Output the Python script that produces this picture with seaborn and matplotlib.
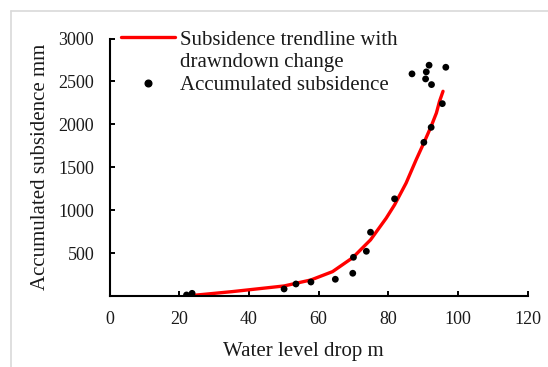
import matplotlib
matplotlib.use("Agg")
import matplotlib.pyplot as plt
from matplotlib.lines import Line2D
import seaborn as sns
import pandas as pd

# Observed data
drop_m = [22.1, 23.7, 50.1, 53.5, 57.8, 64.8, 69.8, 70.0, 73.7, 74.9, 81.8,
          86.8, 90.2, 90.7, 90.9, 91.7, 92.3, 92.4, 95.5, 96.5]
subsidence_mm = [12, 31, 82, 140, 163, 195, 265, 451, 521, 743, 1132,
                 2588, 1790, 2529, 2611, 2689, 1965, 2463, 2241, 2665]

# Trendline
trend_x = [24.2, 35.2, 50.1, 57.8, 64.0, 69.8, 74.9, 79.4, 81.8, 85.1, 88.0,
           90.4, 92.3, 93.8, 94.7, 95.7]
trend_y = [8, 51, 117, 187, 284, 447, 654, 907, 1062, 1315, 1588,
           1802, 1977, 2132, 2268, 2385]

x_ticks = [0, 20, 40, 60, 80, 100, 120]
y_ticks = [500, 1000, 1500, 2000, 2500, 3000]

label_trend_1 = "Subsidence trendline with"
label_trend_2 = "drawndown change"
label_obs = "Accumulated subsidence"

sns.set_theme(style="white")
plt.rcParams["font.family"] = ["Liberation Serif", "DejaVu Serif"]

W, H = 548, 367
fig = plt.figure(figsize=(W / 100, H / 100), dpi=100)
ax = fig.add_axes([109.5 / W, 1 - 296 / H, (527.7 - 109.5) / W, (296 - 38.5) / H])

df_obs = pd.DataFrame({"x": drop_m, "y": subsidence_mm})
df_tr = pd.DataFrame({"x": trend_x, "y": trend_y})

sns.lineplot(data=df_tr, x="x", y="y", ax=ax, color="#ff0000", linewidth=2.4,
             sort=False, estimator=None, zorder=2)
sns.scatterplot(data=df_obs, x="x", y="y", ax=ax, color="black", s=24,
                edgecolor="none", zorder=3)

ax.set_xlim(0, 120)
ax.set_ylim(0, 3000)
ax.set_xticks(x_ticks)
ax.set_yticks(y_ticks)
ax.set_xticklabels([str(t) for t in x_ticks])
ax.set_yticklabels([str(t) for t in y_ticks])

for s in ["top", "right"]:
    ax.spines[s].set_visible(False)
for s in ["left", "bottom"]:
    ax.spines[s].set_color("black")
    ax.spines[s].set_linewidth(1.5)

ax.tick_params(axis="both", direction="in", length=3.6, width=1.4,
               color="black", labelsize=13, pad=11, labelcolor="#1a1a1a")
ax.tick_params(axis="x", bottom=True)
ax.tick_params(axis="y", left=True)

ax.set_xlabel("Water level drop m", fontsize=15, color="#1a1a1a")
ax.set_ylabel("Accumulated subsidence mm", fontsize=15, color="#1a1a1a")
ax.xaxis.set_label_coords(0.463, -0.178)
ax.yaxis.set_label_coords(-0.143, 0.5)

handles = [
    Line2D([], [], color="#ff0000", linewidth=2.4),
    Line2D([], [], linestyle="none", marker=None),
    Line2D([], [], linestyle="none", marker="o", color="black", markersize=4.8),
]
leg = ax.legend(handles, [label_trend_1, label_trend_2, label_obs],
                loc="upper left", bbox_to_anchor=(120.7 / W, 1 - 30 / H),
                bbox_transform=fig.transFigure, frameon=False, fontsize=15,
                handlelength=2.6, handletextpad=0.25, borderpad=0,
                borderaxespad=0, labelspacing=0.15)
for t in leg.get_texts():
    t.set_color("#1a1a1a")

# light grey frame on the top and left edges of the picture
fig.add_artist(Line2D([10.5 / W, 10.5 / W], [0, 1 - 10.5 / H],
                      transform=fig.transFigure, color="#d9d9d9", linewidth=1.2))
fig.add_artist(Line2D([10.5 / W, 1], [1 - 10.5 / H, 1 - 10.5 / H],
                      transform=fig.transFigure, color="#d9d9d9", linewidth=1.2))

fig.savefig("out.png", dpi=100, facecolor="white")
